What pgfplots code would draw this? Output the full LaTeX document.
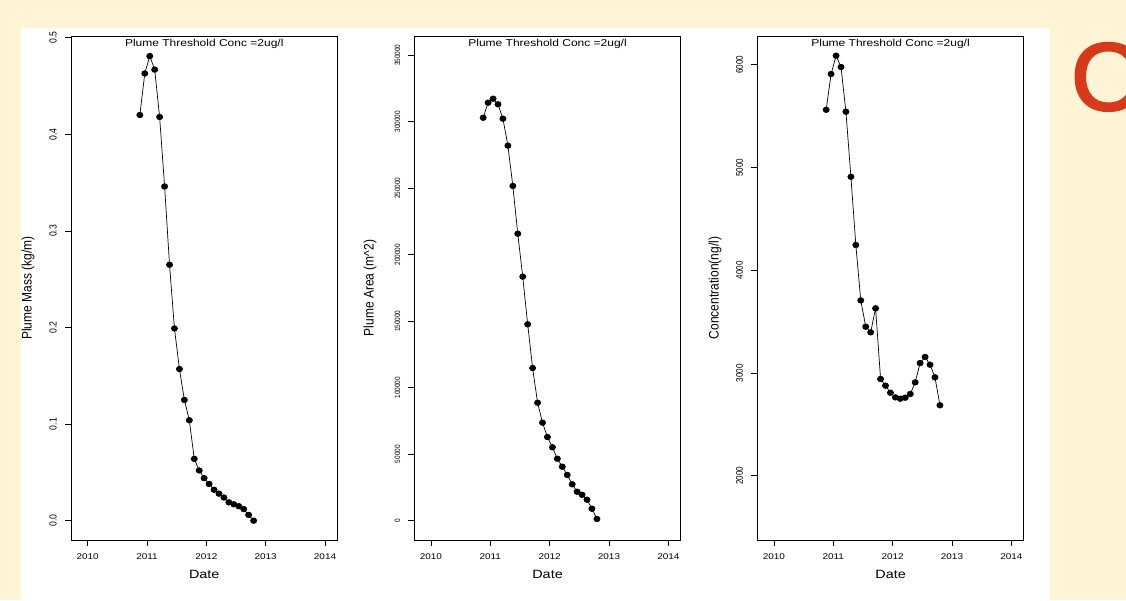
\documentclass[border=0pt]{standalone}
\usepackage{pgfplots}
\pgfplotsset{compat=1.18}
\usepackage{pgfplotstable}
\usepackage{fontspec}
\setmainfont{Liberation Sans}
\newfontfamily\ofont[FakeBold=2.5]{Liberation Sans}
\definecolor{cream}{HTML}{FFF5D6}
\definecolor{ored}{HTML}{D63A1B}

\pgfplotstableread{
x        mass   area    conc
2010.880 0.420  303000  5562
2010.963 0.463  314300  5910
2011.047 0.481  317300  6088
2011.130 0.467  313100  5978
2011.213 0.418  302300  5543
2011.297 0.346  282000  4910
2011.380 0.265  251700  4246
2011.463 0.199  215800  3707
2011.547 0.157  183500  3451
2011.630 0.125  147700  3396
2011.713 0.104  114800  3630
2011.797 0.064  88700   2942
2011.880 0.052  73700   2877
2011.963 0.044  62900   2808
2012.047 0.038  55200   2763
2012.130 0.032  46600   2750
2012.213 0.028  40600   2760
2012.297 0.024  34400   2796
2012.380 0.019  27400   2909
2012.463 0.017  21800   3097
2012.547 0.015  19500   3156
2012.630 0.012  15800   3081
2012.713 0.006  9000    2958
2012.797 0.000  1300    2686
}\data

\pgfplotsset{rstyle/.style={
  scale only axis, width=266.5pt, height=504pt,
  xmin=2009.72, xmax=2014.21,
  xtick={2010,2011,2012,2013,2014},
  axis line style={line width=0.9pt},
  tick align=outside, xtick pos=left, ytick pos=left,
  major tick length=6pt,
  tick style={black, line width=0.8pt},
  /pgf/number format/1000 sep={},
  /pgf/number format/assume math mode=true,
  xticklabel style={font=\fontsize{8.3}{9}\selectfont, yshift=-4pt, xscale=1.2},
  xlabel={Date},
  xlabel style={font=\fontsize{12}{14}\selectfont, xscale=1.2, at={(axis description cs:0.5,-0.069)}, anchor=center},
  title={Plume Threshold Conc =2ug/l},
  title style={at={(axis description cs:0.5,1)}, anchor=north, yshift=-6pt, font=\fontsize{10}{12}\selectfont, xscale=1.2},
  yticklabel style={xshift=-4pt, rotate=90, yscale=1.2, anchor=south},
  every axis y label/.style={at={(axis description cs:-0.161,0.5)}, rotate=90, yscale=1.15, anchor=center, font=\fontsize{12}{14}\selectfont},
  rplot/.style={black, line width=0.7pt, mark=*, mark size=2.8pt, mark options={solid, fill=black, xscale=1.1}},
}}

\begin{document}
\begin{tikzpicture}
\clip (0pt,0pt) rectangle (1126pt,600pt);
\useasboundingbox (0pt,0pt) rectangle (1126pt,600pt);
\fill[cream] (0pt,0pt) rectangle (1126pt,600pt);
\fill[white] (21pt,0pt) rectangle (1050pt,572pt);
\node[anchor=base west, inner sep=0pt, text=ored, font=\ofont\fontsize{96}{100}\selectfont] at (1071pt,490pt) {O};

\begin{axis}[rstyle, at={(71pt,60pt)}, anchor=south west,
  ymin=-0.020, ymax=0.5018, ytick={0,0.1,0.2,0.3,0.4,0.5},
  yticklabel style={font=\fontsize{8.6}{9}\selectfont, /pgf/number format/.cd, fixed, fixed zerofill, precision=1},
  ylabel={Plume Mass (kg/m)}]
\addplot[rplot] table[x=x, y=mass] {\data};
\end{axis}

\begin{axis}[rstyle, at={(414.3pt,60pt)}, anchor=south west,
  ymin=-14500, ymax=364450, ytick={0,50000,100000,150000,200000,250000,300000,350000},
  scaled y ticks=false,
  yticklabel style={font=\fontsize{6.4}{7}\selectfont, /pgf/number format/.cd, fixed, precision=0},
  every axis y label/.append style={at={(axis description cs:-0.166,0.5)}},
  ylabel={Plume Area (m\string^2)}]
\addplot[rplot] table[x=x, y=area] {\data};
\end{axis}

\begin{axis}[rstyle, at={(757.3pt,60pt)}, anchor=south west,
  ymin=1375, ymax=6280, ytick={2000,3000,4000,5000,6000},
  yticklabel style={font=\fontsize{8.1}{9}\selectfont},
  every axis y label/.append style={at={(axis description cs:-0.159,0.5)}},
  ylabel={Concentration(ng/l)}]
\addplot[rplot] table[x=x, y=conc] {\data};
\end{axis}
\end{tikzpicture}
\end{document}
